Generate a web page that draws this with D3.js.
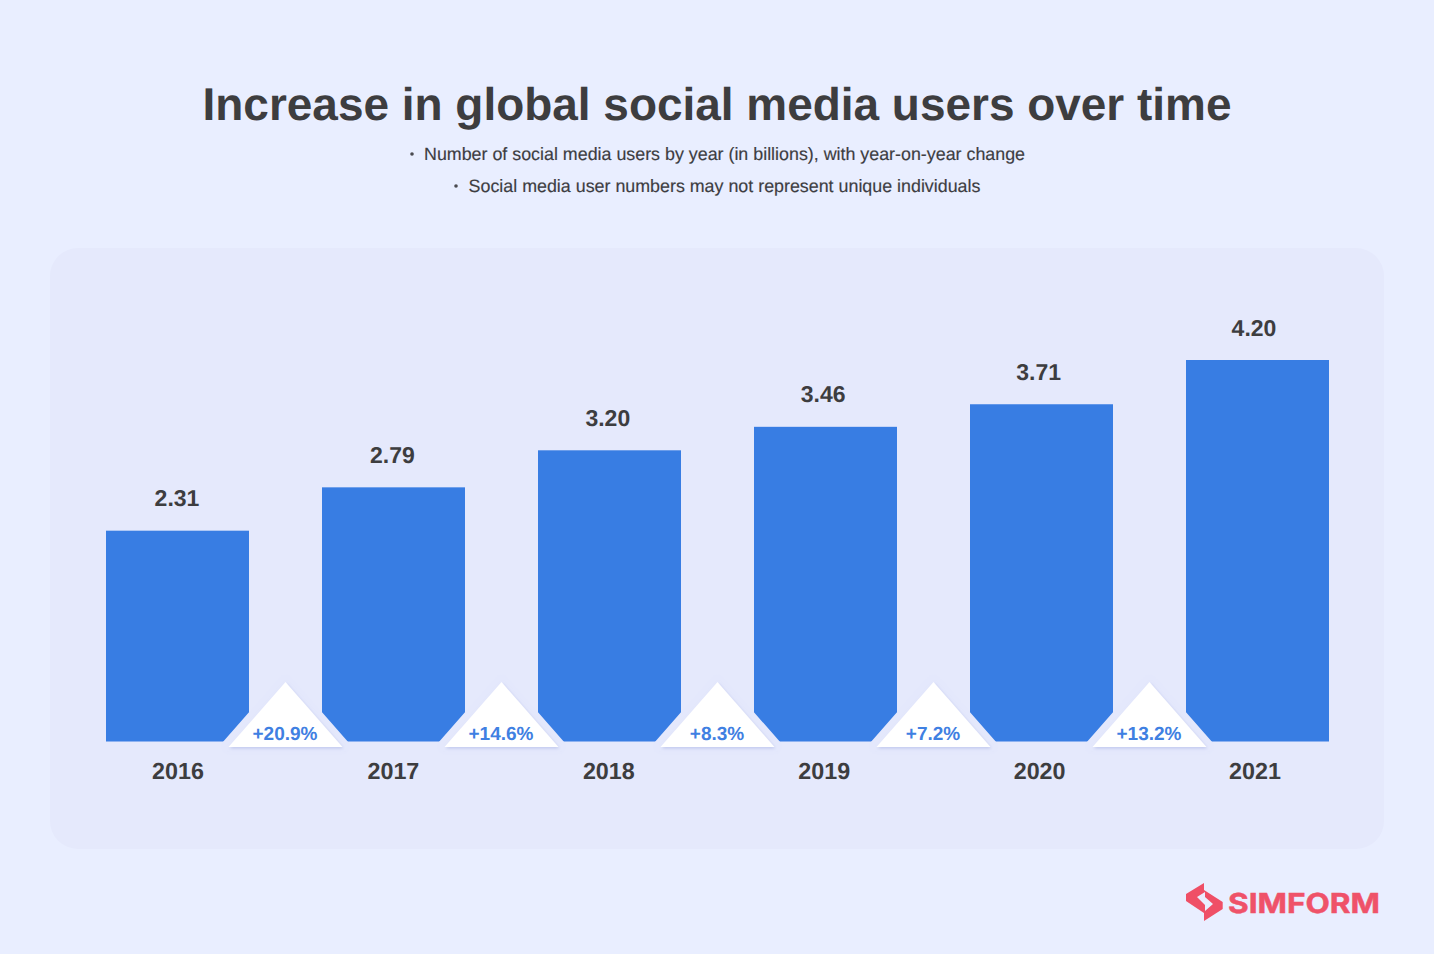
<!DOCTYPE html>
<html>
<head>
<meta charset="utf-8">
<script src="https://cdn.jsdelivr.net/npm/d3@7/dist/d3.min.js"></script>
<style>
  html, body { margin: 0; padding: 0; background: #e9eeff; }
  svg { display: block; }
  text { font-family: "Liberation Sans", Arial, sans-serif; text-rendering: geometricPrecision; }
</style>
</head>
<body>
<svg id="chart" width="1434" height="954"></svg>
<script>
const years = ["2016", "2017", "2018", "2019", "2020", "2021"];
const users = [2.31, 2.79, 3.20, 3.46, 3.71, 4.20];
const changes = ["+20.9%", "+14.6%", "+8.3%", "+7.2%", "+13.2%"];
const notes = [
    "Number of social media users by year (in billions), with year-on-year change",
    "Social media user numbers may not represent unique individuals"
];

const svg = d3.select("#chart");
const baseY = 741.5;

const x = d3.scaleBand().domain(years).range([106, 1329]).paddingInner(0.338);
const y = d3.scaleLinear().domain([0, 4.2]).range([739.3, 360]);
// labels drift slightly from the bar centres in the original
const labelX = d3.scalePoint().domain(years).range([177.5, 1254.5]);

const defs = svg.append("defs");
const shadow = defs.append("filter").attr("id", "tri-shadow")
    .attr("x", "-20%").attr("y", "-20%").attr("width", "140%").attr("height", "140%");
shadow.append("feDropShadow")
    .attr("dx", 1).attr("dy", 1.5).attr("stdDeviation", 1.5)
    .attr("flood-color", "#a9b3e4").attr("flood-opacity", 0.6);

// title and notes
svg.append("text")
    .attr("x", 717).attr("y", 120)
    .attr("text-anchor", "middle")
    .attr("font-size", 45.95).attr("font-weight", 700)
    .attr("fill", "#3d3d3f")
    .text("Increase in global social media users over time");

notes.forEach((note, i) => {
    svg.append("text")
        .attr("x", 724.5).attr("y", 160 + i * 32)
        .attr("text-anchor", "middle")
        .attr("font-size", 17.85)
        .attr("fill", "#3d3d42")
        .attr("stroke", "#3d3d42").attr("stroke-width", 0.15)
        .text(note);
});
// bullets sit left of each note
svg.selectAll("circle.bullet").data([[412, 154], [456, 186]]).enter().append("circle")
    .attr("class", "bullet")
    .attr("cx", d => d[0]).attr("cy", d => d[1]).attr("r", 1.8).attr("fill", "#4a4a50");

// panel
svg.append("rect")
    .attr("x", 50).attr("y", 248).attr("width", 1334).attr("height", 601)
    .attr("rx", 28).attr("fill", "#e5e9fc");

// bars
svg.selectAll("rect.bar").data(users).enter().append("rect")
    .attr("class", "bar")
    .attr("x", (d, i) => x(years[i]))
    .attr("y", d => y(d))
    .attr("width", x.bandwidth())
    .attr("height", d => baseY - y(d))
    .attr("fill", "#387de3");

// value labels
svg.selectAll("text.value").data(users).enter().append("text")
    .attr("class", "value")
    .attr("x", (d, i) => labelX(years[i]) - 0.5)
    .attr("y", d => y(d) - 24.5)
    .attr("text-anchor", "middle")
    .attr("font-size", 23).attr("font-weight", 700)
    .attr("fill", "#3d3d3f")
    .text(d => d.toFixed(2));

// year labels
svg.selectAll("text.year").data(years).enter().append("text")
    .attr("class", "year")
    .attr("x", d => labelX(d) + 0.5)
    .attr("y", 778.5)
    .attr("text-anchor", "middle")
    .attr("font-size", 23.3).attr("font-weight", 700)
    .attr("fill", "#3d3d3f")
    .text(d => d);

// change triangles between the bars
const tri = svg.selectAll("g.change").data(changes).enter().append("g")
    .attr("class", "change")
    .attr("transform", (d, i) => `translate(${x(years[i]) + x.bandwidth() + (x.step() - x.bandwidth()) / 2},0)`);

tri.append("path")
    .attr("d", "M0,682 L57,747 L-57,747 Z")
    .attr("fill", "#e4e8fc")
    .attr("stroke", "#e4e8fc").attr("stroke-width", 15)
    .attr("stroke-linejoin", "round");

tri.append("path")
    .attr("d", "M0,682 L57,747 L-57,747 Z")
    .attr("fill", "#ffffff")
    .attr("filter", "url(#tri-shadow)");

tri.append("text")
    .attr("x", -0.5).attr("y", 739.5)
    .attr("text-anchor", "middle")
    .attr("font-size", 19).attr("font-weight", 700)
    .attr("fill", "#3f80e2")
    .text(d => d);

// logo
const logo = svg.append("g");
logo.append("path")
    .attr("fill-rule", "evenodd")
    .attr("d", "M1186,894 L1204,883 L1204,890 L1222.7,902 L1222.7,909 L1204,921 L1204,913 L1186,901 Z M1197,897 L1205,905 L1205,911 L1213,904 L1205,897 L1205,892 Z")
    .attr("fill", "#ef4f66");
logo.append("text")
    .attr("x", 1228).attr("y", 913)
    .attr("font-size", 27.5).attr("font-weight", 700)
    .attr("textLength", 152).attr("lengthAdjust", "spacingAndGlyphs")
    .attr("fill", "#ef5269")
    .attr("stroke", "#ef5269").attr("stroke-width", 0.5)
    .style("font-family", "Inter, sans-serif")
    .text("SIMFORM");
</script>
</body>
</html>
